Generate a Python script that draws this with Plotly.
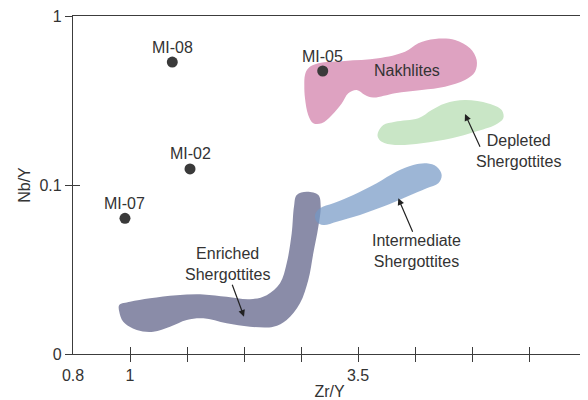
import numpy as np
import plotly.graph_objects as go

# ---------------- data ----------------
# x is the diagram position along the Zr/Y axis (tick index: 0 -> 0.8, 1 -> 1, 5 -> 3.5, 9 -> 7)
x_tick_pos = [1, 2, 3, 4, 5, 6, 7, 8, 9]
x_tick_text = ["1", "", "", "", "3.5", "", "", "", "7"]
y_tick_vals = [0.01, 0.1, 1]
y_tick_text = ["0", "0.1", "1"]

sample_names = ["MI-08", "MI-02", "MI-07", "MI-05"]
sample_x = [1.742, 2.053, 0.912, 4.381]
sample_y = [0.534, 0.1245, 0.0635, 0.4727]

nakhlites_x = [4.070, 4.128, 4.304, 4.772, 5.356, 5.825, 6.058, 6.351, 6.702, 6.965,
               7.082, 7.053, 6.877, 6.526, 6.118, 5.649, 5.268, 5.123, 4.977, 4.830,
               4.714, 4.539, 4.363, 4.216, 4.128, 4.070, 4.058]
nakhlites_y = [0.448, 0.491, 0.525, 0.542, 0.562, 0.615, 0.690, 0.731, 0.721, 0.644,
               0.549, 0.468, 0.418, 0.382, 0.365, 0.349, 0.329, 0.341, 0.365, 0.349,
               0.304, 0.259, 0.232, 0.232, 0.259, 0.326, 0.391]

depleted_x = [5.356, 5.444, 5.649, 6.058, 6.293, 6.526, 6.877, 7.286, 7.521, 7.549,
              7.404, 7.053, 6.644, 6.118, 5.649, 5.416, 5.346]
depleted_y = [0.2065, 0.2265, 0.2367, 0.248, 0.278, 0.304, 0.318, 0.304, 0.278, 0.248,
              0.2265, 0.2065, 0.1888, 0.1766, 0.1726, 0.1804, 0.1932]

intermediate_x = [4.246, 4.333, 4.567, 4.918, 5.328, 5.679, 5.970, 6.205, 6.381, 6.468,
                  6.409, 6.205, 5.854, 5.444, 5.035, 4.626, 4.391, 4.275]
intermediate_y = [0.0665, 0.0728, 0.078, 0.0873, 0.1023, 0.12, 0.1313, 0.1344, 0.1283, 0.1146,
                  0.1023, 0.0956, 0.0853, 0.0745, 0.0665, 0.0607, 0.058, 0.0607]

enriched_x = [0.812, 1.000, 1.351, 1.819, 2.286, 2.696, 3.105, 3.398, 3.632, 3.749,
              3.837, 3.877, 3.925, 4.100, 4.304, 4.346, 4.304, 4.216, 4.128, 3.982,
              3.749, 3.514, 3.105, 2.696, 2.286, 1.995, 1.702, 1.409, 1.118, 0.882, 0.812]
enriched_y = [0.0195, 0.0204, 0.0214, 0.0223, 0.0225, 0.0218, 0.0211, 0.0223, 0.0262, 0.0344,
              0.0518, 0.0745, 0.0873, 0.0912, 0.0873, 0.0745, 0.0566, 0.0394, 0.0274, 0.01995,
              0.0159, 0.0145, 0.0145, 0.0152, 0.01626, 0.0159, 0.0145, 0.01355, 0.01387, 0.01552, 0.01778]

# ---------------- style ----------------
FONT = "Liberation Sans, Arial, sans-serif"
TXT = "#333333"
AX = "#3c3c3c"
FS = 16

fig = go.Figure()


def region(xs, ys, color):
    fig.add_trace(go.Scatter(
        x=list(xs) + [xs[0]], y=list(ys) + [ys[0]],
        mode="lines", fill="toself", fillcolor=color,
        line=dict(width=0, color=color, shape="spline", smoothing=1.0),
        hoverinfo="skip", showlegend=False))


region(enriched_x, enriched_y, "#8a8ca8")
region(intermediate_x, intermediate_y, "rgba(115,151,196,0.7)")
region(nakhlites_x, nakhlites_y, "#dea2c1")
region(depleted_x, depleted_y, "#c9e6c6")

fig.add_trace(go.Scatter(
    x=sample_x, y=sample_y, mode="markers",
    marker=dict(size=11, color="#3a3a3a"),
    showlegend=False, hoverinfo="skip"))

# sample labels just above each point
for name, sx, sy in zip(sample_names, sample_x, sample_y):
    fig.add_annotation(x=sx, y=np.log10(sy), xref="x", yref="y", text=name, showarrow=False,
                       yshift=15, font=dict(family=FONT, size=FS, color=TXT))

# dummy traces to bind overlay axes
fig.add_trace(go.Scatter(x=[None], y=[None], xaxis="x2", yaxis="y2", showlegend=False, hoverinfo="skip"))
fig.add_trace(go.Scatter(x=[None], y=[None], xaxis="x3", yaxis="y", showlegend=False, hoverinfo="skip"))

# region labels
labels = [
    ("Nakhlites", 5.854, 0.474),
    ("Enriched<br>Shergottites", 2.707, 0.0342),
    ("Intermediate<br>Shergottites", 6.030, 0.0408),
    ("Depleted<br>Shergottites", 7.812, 0.1596),
]
for t, lx, ly in labels:
    fig.add_annotation(x=lx, y=np.log10(ly), xref="x", yref="y", text=t, showarrow=False,
                       font=dict(family=FONT, size=FS, color=TXT), align="center")

# arrows (tail -> head)
arrows = [
    (2.784, 0.0262, 3.0, 0.01663),
    (5.970, 0.0518, 5.707, 0.0834),
    (7.153, 0.1648, 6.877, 0.263),
]
for tx, ty, hx, hy in arrows:
    fig.add_annotation(x=hx, y=np.log10(hy), ax=tx, ay=np.log10(ty), xref="x", yref="y",
                       axref="x", ayref="y", text="", showarrow=True, arrowhead=2,
                       arrowsize=1.1, arrowwidth=1.2, arrowcolor="#222222", standoff=0)

tickfont = dict(family=FONT, size=FS, color=TXT)
common_x = dict(range=[0, 9], showgrid=False, zeroline=False, fixedrange=True, automargin=False)
common_y = dict(type="log", range=[-2, 0], showgrid=False, zeroline=False, fixedrange=True,
                automargin=False)

# the page body has an 8px default margin, so the figure is sized to fit the 588x400 window
fig.update_layout(
    width=580, height=392,
    margin=dict(l=65, r=2, t=8, b=46, autoexpand=False),
    paper_bgcolor="white", plot_bgcolor="white",
    xaxis=dict(**common_x, tickmode="array", tickvals=x_tick_pos, ticktext=x_tick_text,
               ticks="outside", ticklen=7, tickwidth=1.3, tickcolor=AX,
               showline=True, linecolor=AX, linewidth=1.3, mirror=True,
               tickfont=tickfont, ticklabeloverflow="allow",
               title=dict(text="Zr/Y", font=dict(family=FONT, size=FS, color=TXT), standoff=2)),
    xaxis2=dict(**common_x, overlaying="x", anchor="y", side="bottom", tickmode="array",
                tickvals=x_tick_pos, ticks="inside", ticklen=7, tickwidth=1.3, tickcolor=AX,
                showticklabels=False, showline=False),
    xaxis3=dict(**common_x, overlaying="x", anchor="y", side="bottom", tickmode="array",
                tickvals=[0], ticktext=["0.8"], ticks="outside", ticklen=7,
                tickcolor="rgba(0,0,0,0)", tickfont=tickfont, showline=False,
                ticklabeloverflow="allow"),
    yaxis=dict(**common_y, tickmode="array", tickvals=y_tick_vals, ticktext=y_tick_text,
               ticks="outside", ticklen=7, tickwidth=1.3, tickcolor=AX,
               showline=True, linecolor=AX, linewidth=1.3, mirror=True,
               tickfont=tickfont, ticklabeloverflow="allow",
               title=dict(text="Nb/Y", font=dict(family=FONT, size=FS, color=TXT), standoff=4)),
    yaxis2=dict(**common_y, overlaying="y", anchor="x", side="left", tickmode="array",
                tickvals=y_tick_vals, ticks="inside", ticklen=7, tickwidth=1.3, tickcolor=AX,
                showticklabels=False, showline=False),
)

fig.write_html("out.html")
